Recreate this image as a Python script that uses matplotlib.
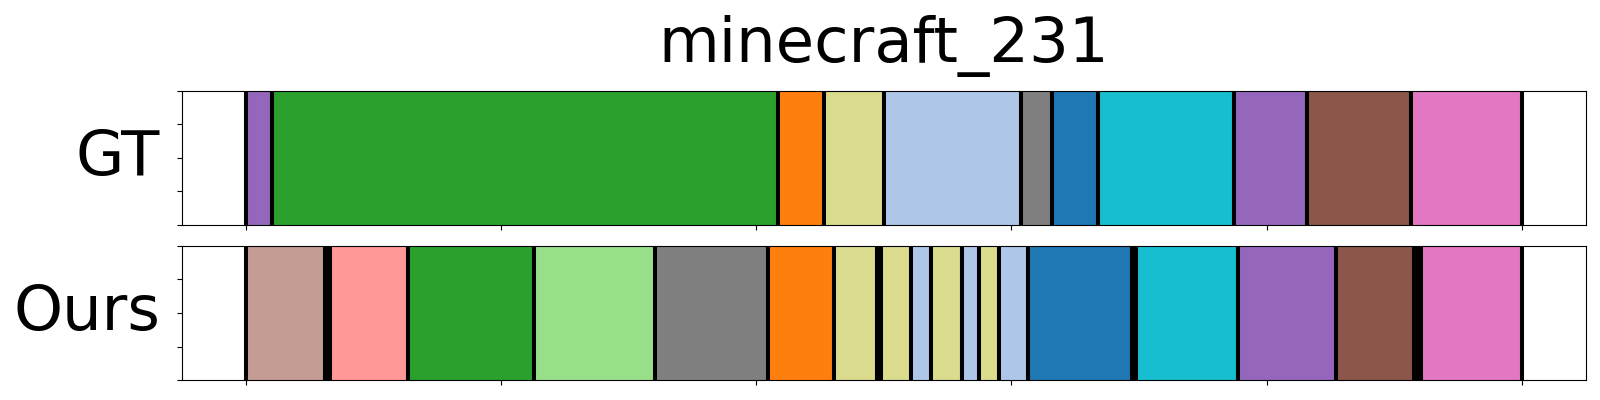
import matplotlib
matplotlib.use('Agg')
import matplotlib.pyplot as plt

video = 'minecraft_231'   # title
n_frames = 5000   # length of the video

# segment boundaries (frames) and class ids, -1 = background (black)
gt_bounds = [0, 103, 2087, 2267, 2502, 3036, 3161, 3341, 3871, 4157, 4565, 5000]
gt_labels = [8, 4, 2, 17, 1, 14, 0, 18, 8, 10, 12]

ours_bounds = [0, 310, 332, 636, 1131, 1605, 2047, 2306, 2475, 2490, 2608, 2687,
               2808, 2875, 2953, 3067, 3471, 3490, 3886, 4271, 4576, 4604, 5000]
ours_labels = [11, -1, 7, 4, 5, 14, 2, 17, -1, 17, 1, 17, 1, 17, 1, 0, -1, 18, 8, 10, -1, 12]

rows = ['GT', 'Ours']
cmap = plt.get_cmap('tab20')


def draw_segments(ax, bounds, labels, name):   # one row of colored segments
    for i, lab in enumerate(labels):
        color = 'black' if lab < 0 else cmap(lab)
        ax.barh(0.5, bounds[i + 1] - bounds[i], left=bounds[i], height=2,
                color=color, edgecolor='black', linewidth=2.9)
    ax.set_xlim(-0.05 * n_frames, 1.05 * n_frames)
    ax.set_ylim(0, 1)
    ax.set_xticks(range(0, n_frames + 1, 1000))
    ax.set_xticklabels([])
    ax.set_yticks([0, 0.25, 0.5, 0.75, 1])
    ax.set_yticklabels([])
    ax.text(-0.0155, 0.5, name, transform=ax.transAxes, fontsize=45,
            ha='right', va='center')


fig = plt.figure(figsize=(16, 4), dpi=100)
ax1 = fig.add_axes([0.1136, 0.4375, 0.8775, 0.3358])
ax2 = fig.add_axes([0.1136, 0.0493, 0.8775, 0.3365])

draw_segments(ax1, gt_bounds, gt_labels, rows[0])
draw_segments(ax2, ours_bounds, ours_labels, rows[1])
ax1.set_title(video, fontsize=45, pad=20.6)

fig.savefig('out.png', dpi=100)
